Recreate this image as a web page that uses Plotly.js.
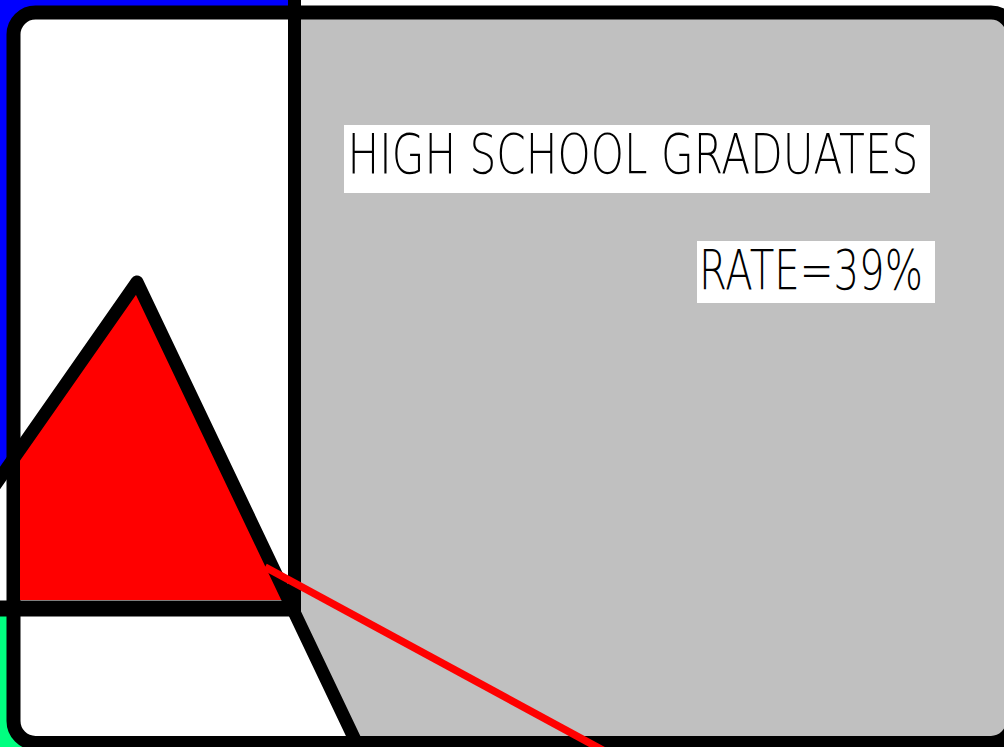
<!DOCTYPE html>
<html>
<head>
<meta charset="utf-8">
<script src="https://cdn.plot.ly/plotly-3.0.1.min.js"></script>
<style>
  html, body { margin: 0; padding: 0; background: #ffffff; }
  #chart { width: 1004px; height: 747px; }
</style>
</head>
<body>
<div id="chart"></div>
<script>
// ---- data (in the figure's own 0..1004 x 0..747 coordinate space) ----
const triangleEdgeX = [-7, 137, 366];
const triangleEdgeY = [488, 282, 763];
const triangleFillX = [137, 20, 20, 288, 137];
const triangleFillY = [282, 449, 600, 600, 282];
const rateLineX = [265, 621];
const rateLineY = [567, 760];
const labels = ["HIGH SCHOOL GRADUATES", "RATE=39%"];
const labelX = [632.5, 810.5];
const labelY = [154, 270];
const labelWidth = [571, 224];
const boxX0 = [344, 697];
const boxX1 = [930, 935];
const boxY0 = [125, 241];
const boxY1 = [193, 303];

// frame geometry
const fx0 = 13.5, fy0 = 12.5, fx1 = 1013, fy1 = 743, fr = 22;
const divX = 294.5, divBottom = 613, hLineY = 608.5;
const k = 0.5523 * fr;

function roundedRectPath(x0, y0, x1, y1, r) {
  return `M ${x0 + r},${y0} L ${x1 - r},${y0} C ${x1 - r + k},${y0} ${x1},${y0 + r - k} ${x1},${y0 + r} ` +
         `L ${x1},${y1 - r} C ${x1},${y1 - r + k} ${x1 - r + k},${y1} ${x1 - r},${y1} ` +
         `L ${x0 + r},${y1} C ${x0 + r - k},${y1} ${x0},${y1 - r + k} ${x0},${y1 - r} ` +
         `L ${x0},${y0 + r} C ${x0},${y0 + r - k} ${x0 + r - k},${y0} ${x0 + r},${y0} Z`;
}
const whiteLeftPath =
  `M ${divX},${fy0} L ${fx0 + fr},${fy0} C ${fx0 + fr - k},${fy0} ${fx0},${fy0 + fr - k} ${fx0},${fy0 + fr} ` +
  `L ${fx0},${fy1 - fr} C ${fx0},${fy1 - fr + k} ${fx0 + fr - k},${fy1} ${fx0 + fr},${fy1} ` +
  `L 357,${fy1} L ${divX},${divBottom} Z`;

const shapes = [
  {type: 'path', layer: 'below', xref: 'x', yref: 'y',
   path: `M 0,0 L ${divX},0 L 137,282 L 0,478 Z`, fillcolor: '#0000ff', line: {width: 0}},
  {type: 'rect', layer: 'below', xref: 'x', yref: 'y', x0: 0, x1: divX, y0: hLineY, y1: 760,
   fillcolor: '#00ff80', line: {width: 0}},
  {type: 'path', layer: 'below', xref: 'x', yref: 'y',
   path: roundedRectPath(fx0, fy0, fx1, fy1, fr), fillcolor: '#c0c0c0', line: {width: 0}},
  {type: 'path', layer: 'below', xref: 'x', yref: 'y',
   path: whiteLeftPath, fillcolor: '#ffffff', line: {width: 0}},
  {type: 'path', layer: 'below', xref: 'x', yref: 'y',
   path: roundedRectPath(fx0, fy0, fx1, fy1, fr), fillcolor: 'rgba(0,0,0,0)', line: {color: '#000000', width: 14}},
  {type: 'line', layer: 'below', xref: 'x', yref: 'y', x0: divX, x1: divX, y0: 0, y1: divBottom,
   line: {color: '#000000', width: 13}},
  {type: 'line', layer: 'below', xref: 'x', yref: 'y', x0: 0, x1: divX, y0: hLineY, y1: hLineY,
   line: {color: '#000000', width: 16}}
];
for (let i = 0; i < labels.length; i++) {
  shapes.push({type: 'rect', layer: 'above', xref: 'x', yref: 'y',
    x0: boxX0[i], x1: boxX1[i], y0: boxY0[i], y1: boxY1[i],
    fillcolor: '#ffffff', line: {width: 0}});
}

const annotations = labels.map((t, i) => ({
  text: t, x: labelX[i], y: labelY[i], xref: 'x', yref: 'y',
  xanchor: 'center', yanchor: 'middle', showarrow: false,
  font: {family: 'DejaVu Sans', size: 55, color: '#000000', weight: 200}
}));

const traces = [
  {x: triangleFillX, y: triangleFillY, type: 'scatter', mode: 'lines', fill: 'toself',
   fillcolor: '#ff0000', line: {width: 0, color: 'rgba(0,0,0,0)'}, hoverinfo: 'skip'},
  {x: triangleEdgeX, y: triangleEdgeY, type: 'scatter', mode: 'lines',
   line: {color: '#000000', width: 13}, hoverinfo: 'skip'},
  {x: rateLineX, y: rateLineY, type: 'scatter', mode: 'lines',
   line: {color: '#ff0000', width: 7.5}, hoverinfo: 'skip'}
];

const layout = {
  width: 1004, height: 747,
  margin: {l: 0, r: 0, t: 0, b: 0, pad: 0},
  paper_bgcolor: '#ffffff', plot_bgcolor: '#ffffff',
  showlegend: false, hovermode: false,
  xaxis: {range: [0, 1004], visible: false, showgrid: false, zeroline: false, fixedrange: true},
  yaxis: {range: [747, 0], visible: false, showgrid: false, zeroline: false, fixedrange: true},
  shapes: shapes,
  annotations: annotations
};

Plotly.newPlot('chart', traces, layout, {displayModeBar: false, staticPlot: true}).then(function (gd) {
  gd.querySelectorAll('.scatterlayer path.js-line').forEach(p => p.style.strokeLinejoin = 'round');
  gd.querySelectorAll('.annotation-text').forEach((el, i) => {
    const bb = el.getBBox();
    if (!bb.width) return;
    const s = labelWidth[i] / bb.width;
    const c = bb.x + bb.width / 2;
    const prev = el.getAttribute('transform') || '';
    el.setAttribute('transform', `${prev} translate(${c},0) scale(${s},1) translate(${-c},0)`.trim());
  });
});
</script>
</body>
</html>
